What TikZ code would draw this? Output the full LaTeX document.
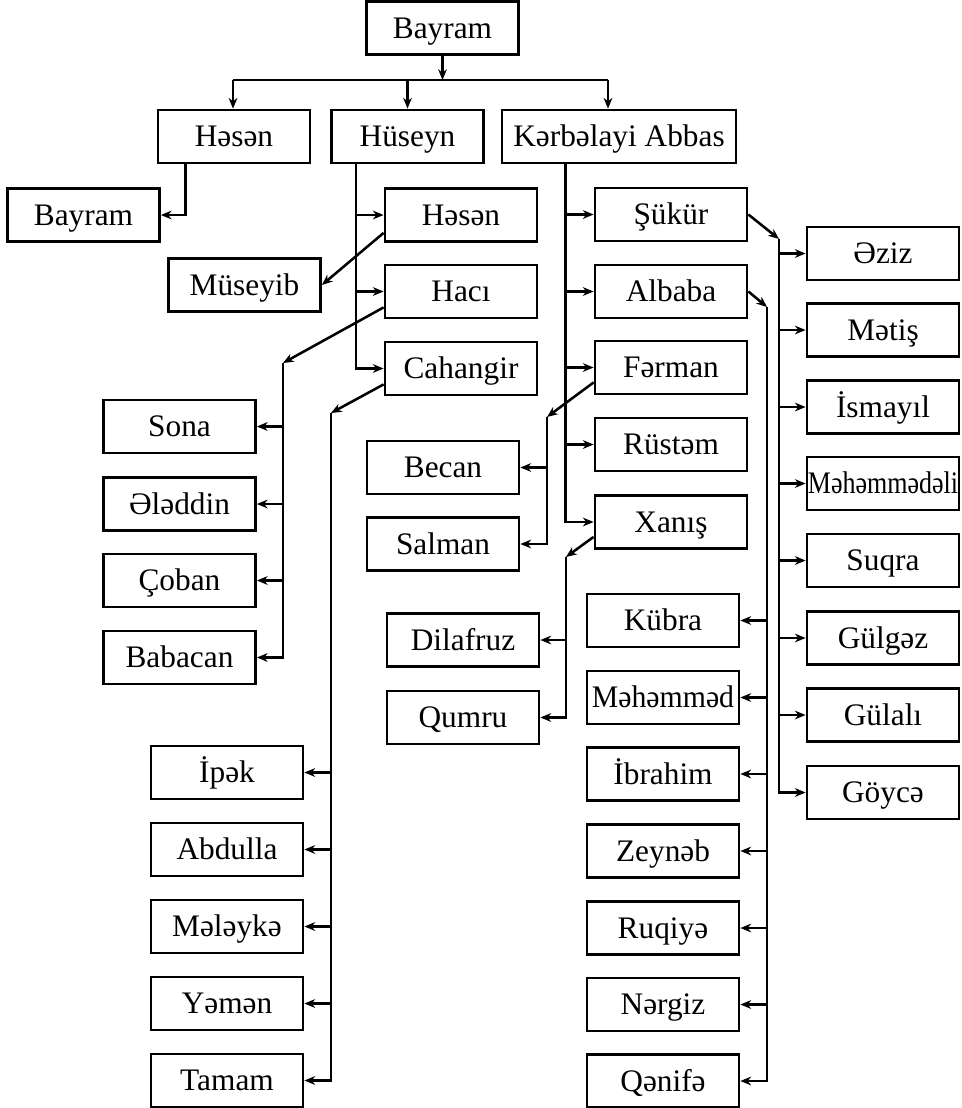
\documentclass[tikz,border=0pt]{standalone}
\usepackage{fontspec}
\setmainfont{Liberation Serif}
\usepackage{graphicx}
\usetikzlibrary{arrows.meta,calc}
\begin{document}
\begin{tikzpicture}[x=0.75pt,y=-0.75pt,
  pbox/.style={draw, line width=2.1pt, minimum width=114pt, minimum height=39.75pt,
    inner sep=0pt, text height=15.5pt, text depth=0pt,
    font=\fontsize{23.5}{28}\selectfont},
  conn/.style={line width=1.9pt},
  arr/.style={line width=1.9pt, -{Stealth[length=8pt,width=6.5pt,inset=2.5pt]}}]
\fill[white] (0,0) rectangle (962,1108);
\useasboundingbox (0,0) rectangle (962,1108);
% generation 1-2
\node[pbox] (b0) at (442.5,28) {Bayram};
\node[pbox] (hsn) at (234,136.5) {Həsən};
\node[pbox] (hus) at (407.5,136.5) {Hüseyn};
\node[pbox, minimum width=175.5pt] (ka) at (619,136.5) {Kərbəlayi Abbas};
% Hesen's line
\node[pbox] (bay2) at (83.5,215) {Bayram};
% Huseyn's line
\node[pbox] (h2) at (461,215) {Həsən};
\node[pbox] (haci) at (461,291.5) {Hacı};
\node[pbox] (cah) at (461,368.5) {Cahangir};
\node[pbox] (mus) at (244.5,285) {Müseyib};
\node[pbox] (sona) at (179.5,426.5) {Sona};
\node[pbox] (ala) at (179.5,504) {Ələddin};
\node[pbox] (coban) at (179.5,580.5) {Çoban};
\node[pbox] (bab) at (179.5,657.5) {Babacan};
\node[pbox] (ipek) at (227,772.5) {İpək};
\node[pbox] (abd) at (227,849.5) {Abdulla};
\node[pbox] (mel) at (227,926.5) {Mələykə};
\node[pbox] (yem) at (227,1003.5) {Yəmən};
\node[pbox] (tam) at (227,1080.5) {Tamam};
% Kerbelayi Abbas's line
\node[pbox] (suk) at (671,214.5) {Şükür};
\node[pbox] (alb) at (671,291.5) {Albaba};
\node[pbox] (fer) at (671,367.5) {Fərman};
\node[pbox] (rus) at (671,444.5) {Rüstəm};
\node[pbox] (xan) at (671,522) {Xanış};
\node[pbox] (becan) at (443,467.5) {Becan};
\node[pbox] (salman) at (443,544) {Salman};
\node[pbox] (dil) at (463,640) {Dilafruz};
\node[pbox] (qum) at (463,717.5) {Qumru};
\node[pbox] (kub) at (663,620.5) {Kübra};
\node[pbox] (meh) at (663,697.5) {\scalebox{0.95}[1]{Məhəmməd}};
\node[pbox] (ibr) at (663,774) {İbrahim};
\node[pbox] (zey) at (663,851) {Zeynəb};
\node[pbox] (ruq) at (663,928) {Ruqiyə};
\node[pbox] (ner) at (663,1004.5) {Nərgiz};
\node[pbox] (qen) at (663,1081) {Qənifə};
\node[pbox] (aziz) at (883,253.5) {Əziz};
\node[pbox] (metis) at (883,330) {Mətiş};
\node[pbox] (ism) at (883,407) {İsmayıl};
\node[pbox] (mma) at (883,483.5) {\scalebox{0.83}[1]{Məhəmmədəli}};
\node[pbox] (suq) at (883,560.5) {Suqra};
\node[pbox] (gulg) at (883,638) {Gülgəz};
\node[pbox] (gula) at (883,715) {Gülalı};
\node[pbox] (goy) at (883,792.5) {Göycə};
% top connectors
\coordinate (barL) at (233,80);
\coordinate (barR) at (608,80);
\coordinate (barM) at (442.5,80);
\draw[arr] (b0.south) -- (barM);
\draw[conn] (barL) -- (barR);
\draw[arr] (barL) -- (barL |- hsn.north);
\draw[arr] (barM -| hus.north) -- (hus.north);
\draw[arr] (barR) -- (barR |- ka.north);
% Hesen -> Bayram
\draw[arr] ($(hsn.south west)+(29,0)$) |- (bay2);
% Huseyn trunk
\coordinate (husT) at ($(hus.south west)+(26,0)$);
\draw[arr] (husT) |- (cah);
\draw[arr] (husT |- h2) -- (h2);
\draw[arr] (husT |- haci) -- (haci);
% Hesen -> Museyib
\draw[arr] ($(h2.south west)+(0,-10)$) -- (mus.east);
% Haci
\coordinate (hacJ) at (283,363);
\draw[arr] ($(haci.south west)+(0,-12)$) -- (hacJ);
\draw[arr] (hacJ) |- (bab);
\draw[arr] (hacJ |- sona) -- (sona);
\draw[arr] (hacJ |- ala) -- (ala);
\draw[arr] (hacJ |- coban) -- (coban);
% Cahangir
\coordinate (cahJ) at (331,413);
\draw[arr] ($(cah.south west)+(0,-12)$) -- (cahJ);
\draw[arr] (cahJ) |- (tam);
\draw[arr] (cahJ |- ipek) -- (ipek);
\draw[arr] (cahJ |- abd) -- (abd);
\draw[arr] (cahJ |- mel) -- (mel);
\draw[arr] (cahJ |- yem) -- (yem);
% Kerbelayi trunk
\coordinate (kaT) at ($(ka.south west)+(65,0)$);
\draw[arr] (kaT) |- (xan);
\draw[arr] (kaT |- suk) -- (suk);
\draw[arr] (kaT |- alb) -- (alb);
\draw[arr] (kaT |- fer) -- (fer);
\draw[arr] (kaT |- rus) -- (rus);
% Ferman
\coordinate (ferJ) at (547,417);
\draw[arr] ($(fer.south west)+(0,-13)$) -- (ferJ);
\draw[arr] (ferJ) |- (salman);
\draw[arr] (ferJ |- becan) -- (becan);
% Xanis
\coordinate (xanJ) at (566,557);
\draw[arr] ($(xan.south west)+(0,-13)$) -- (xanJ);
\draw[arr] (xanJ) |- (qum);
\draw[arr] (xanJ |- dil) -- (dil);
% Sukur
\coordinate (sukJ) at (779,239);
\draw[arr] (suk.east) -- (sukJ);
\draw[arr] (sukJ) |- (goy);
\foreach \n in {aziz,metis,ism,mma,suq,gulg,gula}
  \draw[arr] (sukJ |- \n) -- (\n);
% Albaba
\coordinate (albJ) at (767,307);
\draw[arr] (alb.east) -- (albJ);
\draw[arr] (albJ) |- (qen);
\foreach \n in {kub,meh,ibr,zey,ruq,ner}
  \draw[arr] (albJ |- \n) -- (\n);
\end{tikzpicture}
\end{document}
